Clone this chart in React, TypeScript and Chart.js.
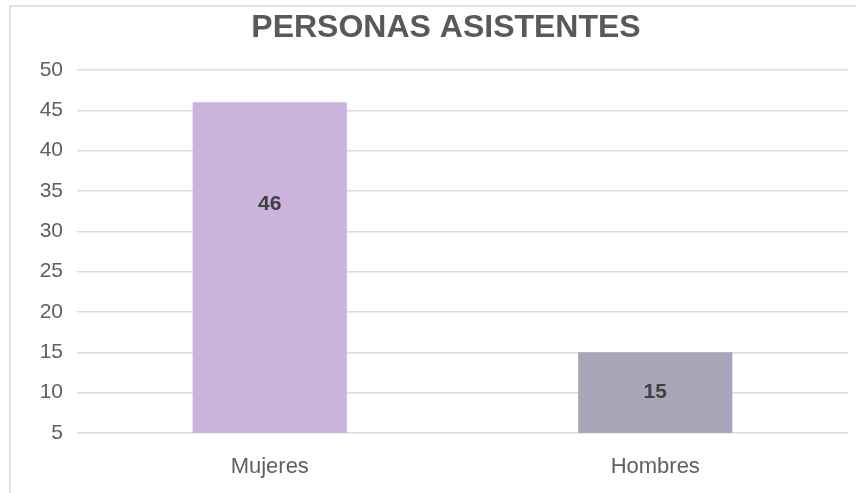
import React, { useEffect, useRef } from "react";
import { Chart, registerables } from "chart.js";

Chart.register(...registerables);

const TITLE = "PERSONAS ASISTENTES";
const CATEGORIES = ["Mujeres", "Hombres"];
const VALUES = [46, 15];
const BAR_COLORS = ["#cbb3dc", "#a9a6ba"];
const Y_MIN = 5;
const Y_MAX = 50;
const Y_STEP = 5;

const FONT = "'Liberation Sans', Arial, sans-serif";

const titlePlugin = {
  id: "customTitle",
  afterDraw(chart: any) {
    const ctx = chart.ctx;
    ctx.save();
    ctx.font = `bold 32px ${FONT}`;
    ctx.fillStyle = "#595959";
    ctx.textAlign = "center";
    ctx.textBaseline = "middle";
    ctx.fillText(TITLE, 446, 28);
    ctx.restore();
  },
};

const labelPlugin = {
  id: "barLabels",
  afterDatasetsDraw(chart: any, _args: any, opts: any) {
    const ctx = chart.ctx;
    const meta = chart.getDatasetMeta(0);
    const yScale = chart.scales.y;
    const anchors: number[] = opts.anchors || [];
    ctx.save();
    ctx.font = `bold 21px ${FONT}`;
    ctx.fillStyle = "#404040";
    ctx.textAlign = "center";
    ctx.textBaseline = "middle";
    meta.data.forEach((bar: any, i: number) => {
      const v = chart.data.datasets[0].data[i];
      const y = anchors[i] !== undefined ? yScale.getPixelForValue(anchors[i]) : (bar.y + bar.base) / 2;
      ctx.fillText(String(v), bar.x, y);
    });
    ctx.restore();
  },
};

export default function App() {
  const ref = useRef<HTMLCanvasElement | null>(null);
  useEffect(() => {
    if (!ref.current) return;
    const chart = new Chart(ref.current, {
      type: "bar",
      data: {
        labels: CATEGORIES,
        datasets: [
          {
            data: VALUES,
            backgroundColor: BAR_COLORS,
            borderWidth: 0,
            categoryPercentage: 1,
            barPercentage: 0.4,
          },
        ],
      },
      options: {
        responsive: false,
        animation: false,
        layout: { padding: { top: 70, right: 8, left: 0, bottom: 0 } },
        plugins: {
          legend: { display: false },
          tooltip: { enabled: false },
          title: { display: false },
          barLabels: { anchors: [33.4, 10] },
        } as any,
        scales: {
          x: {
            grid: { display: false },
            border: { display: false },
            ticks: { font: { family: FONT, size: 22 }, color: "#5f5f5f", padding: 13 },
            afterFit: (s: any) => {
              s.height = 60;
            },
          },
          y: {
            min: Y_MIN,
            max: Y_MAX,
            ticks: { stepSize: Y_STEP, font: { family: FONT, size: 21 }, color: "#5f5f5f", padding: 14 },
            grid: { color: "#dcdcdc", lineWidth: 1.5, drawTicks: false },
            border: { display: false },
            afterFit: (s: any) => {
              s.width = 77;
            },
          },
        },
      },
      plugins: [titlePlugin, labelPlugin],
    });
    return () => chart.destroy();
  }, []);

  return (
    <div style={{ position: "fixed", left: 0, top: 0, width: 856, height: 493, overflow: "hidden", background: "#fff" }}>
      <div
        style={{
          position: "absolute",
          left: 9,
          top: 5,
          width: 1000,
          height: 1000,
          borderLeft: "2px solid #e3e3e3",
          borderTop: "2px solid #e3e3e3",
        }}
      />
      <canvas ref={ref} width={856} height={493} style={{ position: "absolute", left: 0, top: 0 }} />
    </div>
  );
}
